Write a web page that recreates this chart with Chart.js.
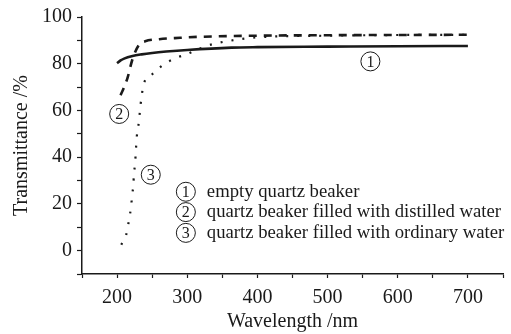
<!DOCTYPE html>
<html>
<head>
<meta charset="utf-8">
<script src="https://cdn.jsdelivr.net/npm/chart.js@4.4.1/dist/chart.umd.min.js"></script>
<style>
html,body{margin:0;padding:0;background:#fff;}
#wrap{width:511px;height:334px;}
</style>
</head>
<body>
<div id="wrap"><canvas id="c" width="511" height="334"></canvas></div>
<script>
// Series 1: empty quartz beaker (solid)
const wl1 = [200, 205, 210, 222, 235, 250, 270, 300, 363, 400, 500, 600, 700];
const t1  = [80.2, 81.4, 82.2, 83.3, 84.0, 84.6, 85.2, 85.9, 86.9, 87.1, 87.3, 87.5, 87.6];
// Series 2: quartz beaker filled with distilled water (dashed)
const wl2 = [205, 210, 215, 222, 231, 240, 260, 290, 316, 400, 500, 600, 700];
const t2  = [66.5, 70, 74.1, 82, 88.0, 89.6, 90.5, 91.1, 91.5, 92, 92.2, 92.3, 92.4];
// Series 3: quartz beaker filled with ordinary water (dotted)
const wl3 = [206, 210, 213, 216, 218.5, 220.3, 221.7, 223.2, 224, 225.6, 226.5, 228, 231, 233.6, 238, 250, 267, 283, 302, 319, 335, 352, 400, 500, 600, 700];
const t3  = [2.5, 5, 6.8, 11.4, 15.7, 20, 24.2, 28.2, 32.8, 37, 41.3, 48.5, 55, 62.8, 71.3, 75.5, 79.8, 82.3, 84.4, 86.6, 88.3, 89.4, 91.3, 92, 92.3, 92.4];

const legendLabels = ['empty quartz beaker', 'quartz beaker filled with distilled water', 'quartz beaker filled with ordinary water'];
const markerNums = ['1', '2', '3'];
// circled-number annotations in data coordinates [wavelength, transmittance]
const markerPos = [[561, 81], [203, 58.5], [248, 32.5]];
const legendPos = [[298, 25.2], [298, 16.5], [298, 7.6]];

const xTitle = 'Wavelength /nm';
const yTitle = 'Transmittance /%';

const FONT = '"Liberation Serif", "Times New Roman", serif';
const INK = '#1a1a1a';

function pts(xs, ys){ return xs.map((x,i)=>({x:x, y:ys[i]})); }

function circled(ctx, cx, cy, n){
  ctx.save();
  ctx.beginPath();
  ctx.arc(cx, cy, 9.5, 0, Math.PI*2);
  ctx.lineWidth = 1;
  ctx.strokeStyle = INK;
  ctx.stroke();
  ctx.fillStyle = INK;
  ctx.font = '16px ' + FONT;
  ctx.textAlign = 'center';
  ctx.textBaseline = 'middle';
  ctx.fillText(n, cx, cy + 1);
  ctx.restore();
}

const annot = {
  id: 'annot',
  afterDraw(chart){
    const ctx = chart.ctx;
    const xs = chart.scales.x, ys = chart.scales.y;
    markerPos.forEach((p,i)=>{
      circled(ctx, xs.getPixelForValue(p[0]), ys.getPixelForValue(p[1]), markerNums[i]);
    });
    legendPos.forEach((p,i)=>{
      const cx = xs.getPixelForValue(p[0]), cy = ys.getPixelForValue(p[1]);
      circled(ctx, cx, cy, markerNums[i]);
      ctx.save();
      ctx.fillStyle = INK;
      ctx.font = '18.7px ' + FONT;
      ctx.textAlign = 'left';
      ctx.textBaseline = 'middle';
      ctx.fillText(legendLabels[i], cx + 21, cy);
      ctx.restore();
    });
  }
};

new Chart(document.getElementById('c'), {
  type: 'line',
  data: {
    datasets: [
      { data: pts(wl1, t1), borderColor: INK, borderWidth: 2.6, pointRadius: 0, cubicInterpolationMode: 'monotone', fill: false },
      { data: pts(wl2, t2), borderColor: INK, borderWidth: 2.6, borderDash: [8, 7], pointRadius: 0, cubicInterpolationMode: 'monotone', fill: false },
      { data: pts(wl3, t3), borderColor: INK, borderWidth: 2.2, borderDash: [2, 9], pointRadius: 0, cubicInterpolationMode: 'monotone', fill: false }
    ]
  },
  options: {
    responsive: false,
    animation: false,
    devicePixelRatio: 1,
    layout: { padding: { top: 16, right: 4, left: 0, bottom: 0 } },
    plugins: { legend: { display: false }, tooltip: { enabled: false } },
    scales: {
      x: {
        type: 'linear', min: 150, max: 750,
        border: { display: true, color: INK, width: 1.5 },
        grid: { display: true, drawOnChartArea: false, drawTicks: true, tickLength: 4, color: INK, tickWidth: 1.2 },
        ticks: { stepSize: 50, autoSkip: false, maxRotation: 0, color: INK, padding: 8,
          font: { family: FONT, size: 20 },
          callback: v => (v % 100 === 0 ? String(v) : '') },
        title: { display: true, text: xTitle, color: INK, font: { family: FONT, size: 20 }, padding: { top: 0, bottom: 0 } },
        afterFit: s => { s.height = 60; }
      },
      y: {
        type: 'linear', min: -10, max: 100,
        border: { display: true, color: INK, width: 1.5 },
        grid: { display: true, drawOnChartArea: false, drawTicks: true, tickLength: 5, color: INK, tickWidth: 1.2 },
        ticks: { stepSize: 10, autoSkip: false, color: INK, padding: 5,
          font: { family: FONT, size: 20 },
          callback: v => (v % 20 === 0 ? String(v) : '') },
        title: { display: true, text: yTitle, color: INK, font: { family: FONT, size: 20 }, padding: { top: 10, bottom: 3 } },
        afterFit: s => { s.width = 82; }
      }
    }
  },
  plugins: [annot]
});
</script>
</body>
</html>
